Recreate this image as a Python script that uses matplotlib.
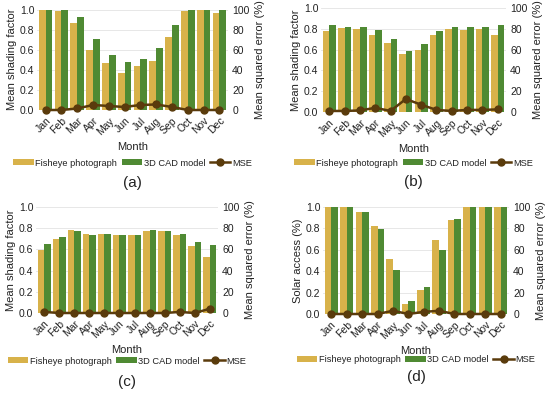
import matplotlib
matplotlib.use("Agg")
import matplotlib.pyplot as plt
import numpy as np
from matplotlib.patches import Patch
from matplotlib.lines import Line2D

months = ["Jan", "Feb", "Mar", "Apr", "May", "Jun", "Jul", "Aug", "Sep", "Oct", "Nov", "Dec"]

fisheye_a = [1.00, 0.99, 0.87, 0.60, 0.47, 0.37, 0.44, 0.49, 0.73, 0.99, 1.00, 0.97]
cad_a = [1.00, 1.00, 0.93, 0.71, 0.55, 0.48, 0.51, 0.62, 0.85, 1.00, 1.00, 1.00]
mse_a = [0, 0, 1.5, 5, 4, 3, 5, 5.5, 3, 0, 0, 0]

fisheye_b = [0.78, 0.81, 0.80, 0.74, 0.66, 0.56, 0.60, 0.74, 0.80, 0.79, 0.80, 0.74]
cad_b = [0.84, 0.82, 0.82, 0.79, 0.70, 0.59, 0.65, 0.78, 0.82, 0.82, 0.82, 0.84]
mse_b = [1, 1, 1.5, 4, 1, 12.5, 7, 2, 1, 2, 2, 2.5]

fisheye_c = [0.59, 0.70, 0.78, 0.75, 0.75, 0.74, 0.74, 0.77, 0.77, 0.74, 0.63, 0.53]
cad_c = [0.65, 0.72, 0.77, 0.74, 0.75, 0.74, 0.74, 0.78, 0.77, 0.75, 0.67, 0.64]
mse_c = [1, 0, 0, 0, 0, 0, 0, 0, 0, 1, 0, 4]

fisheye_d = [1.00, 1.00, 0.95, 0.82, 0.51, 0.09, 0.22, 0.69, 0.88, 1.00, 1.00, 1.00]
cad_d = [1.00, 1.00, 0.95, 0.79, 0.41, 0.12, 0.25, 0.60, 0.89, 1.00, 1.00, 1.00]
mse_d = [0, 0, 0, 0, 3, 0, 2, 3, 0, 0, 0, 0]

# label, ylabel, series, (left, right, top, bottom) px, legend offset, panel-label offset
panels = [
    ("(a)", "Mean shading factor", fisheye_a, cad_a, mse_a, (37, 228, 9.5, 110), 53, 73),
    ("(b)", "Mean shading factor", fisheye_b, cad_b, mse_b, (321, 506, 8, 112), 51, 70),
    ("(c)", "Mean shading factor", fisheye_c, cad_c, mse_c, (36, 218, 207, 313), 48, 69),
    ("(d)", "Solar access (%)", fisheye_d, cad_d, mse_d, (323, 509, 207, 314), 46, 63),
]

C_FISH = "#d8b24a"
C_CAD = "#4f8a33"
C_MSE = "#5a3b0c"
TXT = "#222222"

W, H = 550, 394
fig = plt.figure(figsize=(5.5, 3.94), dpi=100)
plt.rcParams["font.family"] = ["Liberation Sans", "DejaVu Sans"]

x = np.arange(len(months))
bw = 0.43
for label, ylab, fish, cad, mse, (l, r, t, b), loff, poff in panels:
    ax = fig.add_axes([l / W, 1 - b / H, (r - l) / W, (b - t) / H])
    ax.bar(x - bw / 2, fish, bw, color=C_FISH, zorder=2)
    ax.bar(x + bw / 2, cad, bw, color=C_CAD, zorder=2)
    ax.set_ylim(0, 1.0)
    ax.set_xlim(-0.55, 11.55)
    ax.set_yticks(np.arange(0, 1.01, 0.2))
    ax.set_yticklabels([f"{v:.1f}" for v in np.arange(0, 1.01, 0.2)], fontsize=7.5, color=TXT)
    ax.set_xticks(x)
    ax.set_xticklabels(months, rotation=45, ha="right", rotation_mode="anchor", fontsize=7.5, color=TXT)
    ax.tick_params(axis="y", length=0, pad=2)
    ax.tick_params(axis="x", length=0, pad=4)
    ax.grid(axis="y", color="#e3e3e3", linewidth=0.6, zorder=0)
    for s in ax.spines.values():
        s.set_visible(False)
    ax.set_ylabel(ylab, fontsize=8, color=TXT, labelpad=2)
    ax.set_xlabel("Month", fontsize=8, color=TXT, labelpad=4)

    ax2 = ax.twinx()
    ax2.plot(x, mse, color=C_MSE, marker="o", markersize=5, linewidth=1.8, zorder=5, clip_on=False)
    ax2.set_ylim(0, 100)
    ax2.set_yticks(np.arange(0, 101, 20))
    ax2.set_yticklabels([str(v) for v in range(0, 101, 20)], fontsize=7.5, color=TXT)
    ax2.tick_params(length=0, pad=3)
    for s in ax2.spines.values():
        s.set_visible(False)
    ax2.set_ylabel("Mean squared error (%)", fontsize=8, color=TXT, labelpad=4)

    handles = [
        Patch(facecolor=C_FISH, label="Fisheye photograph"),
        Patch(facecolor=C_CAD, label="3D CAD model"),
        Line2D([0], [0], color=C_MSE, marker="o", markersize=5, linewidth=1.8, label="MSE"),
    ]
    cx = (l + r) / 2 / W
    fig.legend(handles=handles, loc="center", bbox_to_anchor=(cx, 1 - (b + loff) / H),
               ncol=3, frameon=False, fontsize=6.7, handlelength=2.2, handleheight=0.55,
               columnspacing=0.5, handletextpad=0.15, labelcolor=TXT, borderpad=0)
    fig.text(cx, 1 - (b + poff) / H, label, ha="center", va="center", fontsize=11, color=TXT)

fig.savefig("out.png", dpi=100)
